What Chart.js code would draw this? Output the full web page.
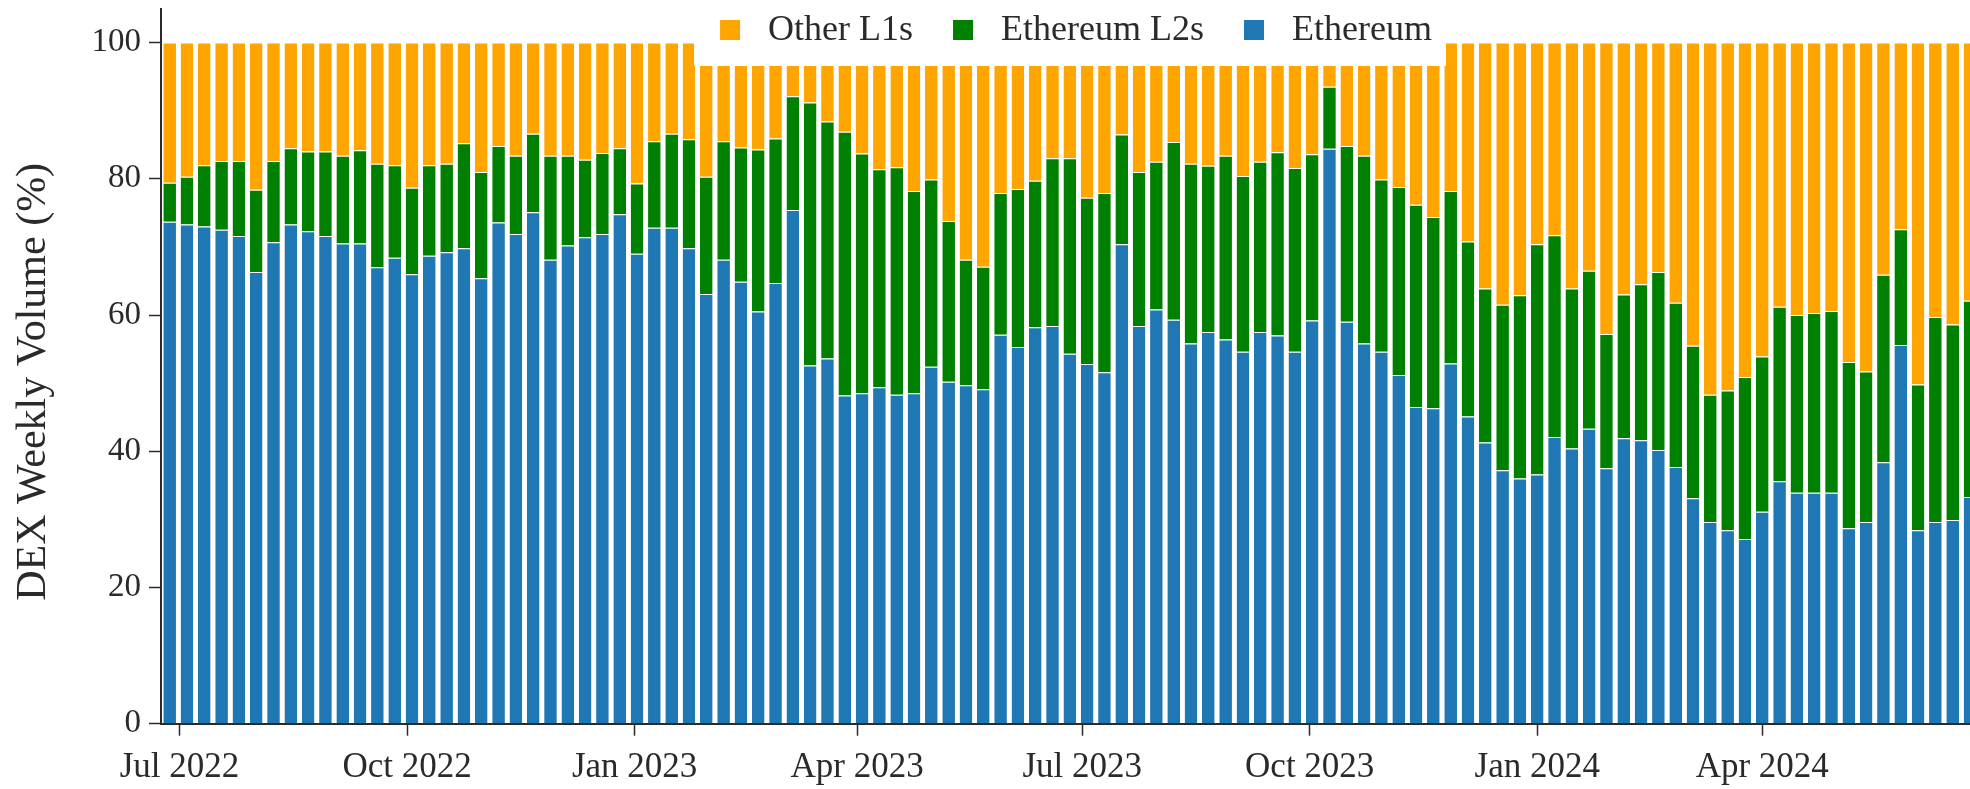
<!DOCTYPE html>
<html>
<head>
<meta charset="utf-8">
<script src="https://cdn.jsdelivr.net/npm/chart.js@4.4.0/dist/chart.umd.min.js"></script>
<style>
html,body{margin:0;padding:0;background:#fff;overflow:hidden;}
#wrap{position:relative;width:1970px;height:789px;}
</style>
</head>
<body>
<div id="wrap"><canvas id="c"></canvas></div>
<script>
// ---- data (weekly shares, %) ----
const firstWeek = '2022-06-27';
const seriesNames = ['Ethereum', 'Ethereum L2s', 'Other L1s'];
const ethereum = [
  73.7, 73.3, 73.0, 72.5, 71.6, 66.3, 70.7, 73.3, 72.3, 71.6,
  70.5, 70.5, 67.0, 68.4, 66.0, 68.7, 69.2, 69.8, 65.4, 73.6,
  71.9, 75.1, 68.1, 70.2, 71.4, 71.9, 74.8, 69.0, 72.8, 72.8,
  69.8, 63.1, 68.1, 64.9, 60.5, 64.7, 75.4, 52.6, 53.6, 48.2,
  48.5, 49.4, 48.3, 48.5, 52.4, 50.2, 49.7, 49.1, 57.1, 55.3,
  58.2, 58.4, 54.3, 52.8, 51.6, 70.4, 58.4, 60.8, 59.3, 55.8,
  57.5, 56.4, 54.6, 57.5, 57.0, 54.6, 59.2, 84.4, 59.0, 55.8,
  54.6, 51.2, 46.5, 46.3, 52.9, 45.1, 41.3, 37.2, 36.0, 36.6,
  42.1, 40.4, 43.3, 37.5, 41.9, 41.6, 40.2, 37.7, 33.1, 29.6,
  28.4, 27.1, 31.1, 35.6, 33.9, 33.9, 33.9, 28.7, 29.6, 38.4,
  55.6, 28.4, 29.6, 29.9, 33.3
];
const ethereumL2s = [
  5.7, 7.0, 9.0, 10.1, 11.0, 12.1, 11.9, 11.2, 11.7, 12.4,
  12.9, 13.7, 15.2, 13.6, 12.7, 13.3, 13.0, 15.4, 15.6, 11.2,
  11.5, 11.5, 15.3, 13.2, 11.4, 11.9, 9.7, 10.3, 12.7, 13.8,
  16.0, 17.2, 17.4, 19.7, 23.8, 21.2, 16.7, 38.6, 34.8, 38.7,
  35.2, 32.0, 33.4, 29.7, 27.5, 23.6, 18.4, 18.0, 20.8, 23.2,
  21.5, 24.6, 28.7, 24.4, 26.3, 16.1, 22.6, 21.7, 26.1, 26.4,
  24.4, 27.0, 25.8, 25.0, 26.9, 27.0, 24.4, 9.1, 25.8, 27.6,
  25.3, 27.6, 29.7, 28.1, 25.3, 25.7, 22.6, 24.3, 26.9, 33.8,
  29.6, 23.5, 23.2, 19.7, 21.1, 22.9, 26.1, 24.1, 22.4, 18.7,
  20.5, 23.8, 22.8, 25.6, 26.1, 26.4, 26.7, 24.4, 22.1, 27.5,
  17.0, 21.4, 30.1, 28.7, 28.8
];
const otherL1s = [
  20.6, 19.7, 18.0, 17.4, 17.4, 21.6, 17.4, 15.5, 16.0, 16.0,
  16.6, 15.8, 17.8, 18.0, 21.3, 18.0, 17.8, 14.8, 19.0, 15.2,
  16.6, 13.4, 16.6, 16.6, 17.2, 16.2, 15.5, 20.7, 14.5, 13.4,
  14.2, 19.7, 14.5, 15.4, 15.7, 14.1, 7.9, 8.8, 11.6, 13.1,
  16.3, 18.6, 18.3, 21.8, 20.1, 26.2, 31.9, 32.9, 22.1, 21.5,
  20.3, 17.0, 17.0, 22.8, 22.1, 13.5, 19.0, 17.5, 14.6, 17.8,
  18.1, 16.6, 19.6, 17.5, 16.1, 18.4, 16.4, 6.5, 15.2, 16.6,
  20.1, 21.2, 23.8, 25.6, 21.8, 29.2, 36.1, 38.5, 37.1, 29.6,
  28.3, 36.1, 33.5, 42.8, 37.0, 35.5, 33.7, 38.2, 44.5, 51.7,
  51.1, 49.1, 46.1, 38.8, 40.0, 39.7, 39.4, 46.9, 48.3, 34.1,
  27.4, 50.2, 40.3, 41.4, 37.9
];
const xTickLabels = ['Jul 2022', 'Oct 2022', 'Jan 2023', 'Apr 2023', 'Jul 2023', 'Oct 2023', 'Jan 2024', 'Apr 2024'];
const xTickDates  = ['2022-07-01', '2022-10-01', '2023-01-01', '2023-04-01', '2023-07-01', '2023-10-01', '2024-01-01', '2024-04-01'];
const yTicks = [0, 20, 40, 60, 80, 100];
const yTitle = 'DEX Weekly Volume (%)';

// ---- styling ----
const COLORS = ['#1f77b4', '#008000', '#ffa500'];
const FONT = '"Liberation Serif", "Times New Roman", Times, serif';
const TEXT = '#2a2a2a';
const AXIS = '#2a2a2a';

const WEEK_MS = 7 * 24 * 3600 * 1000;
const t0 = Date.parse(firstWeek);
const xTickPos = xTickDates.map(d => (Date.parse(d) - t0) / WEEK_MS);
const toPoints = arr => arr.map((v, i) => ({ x: i, y: v }));

const overlayLegend = {
  id: 'overlayLegend',
  afterDatasetsDraw(chart, args, o) {
    const ctx = chart.ctx;
    const items = chart.data.datasets.slice().reverse();
    ctx.save();
    ctx.font = o.fontSize + 'px ' + FONT;
    const widths = items.map(d => ctx.measureText(d.label).width);
    const total = o.padLeft + o.padRight + items.length * (o.box + o.boxGap) +
      widths.reduce((a, b) => a + b, 0) + (items.length - 1) * o.itemGap;
    const ca = chart.chartArea;
    const left = (ca.left + ca.right) / 2 + o.shift - total / 2;
    ctx.fillStyle = '#ffffff';
    ctx.fillRect(left, 0, total, o.height);
    let x = left + o.padLeft;
    items.forEach((d, i) => {
      ctx.fillStyle = d.backgroundColor;
      ctx.fillRect(x, o.boxY, o.box, o.box);
      x += o.box + o.boxGap;
      ctx.fillStyle = TEXT;
      ctx.textBaseline = 'middle';
      ctx.textAlign = 'left';
      ctx.fillText(d.label, x, o.textY);
      x += widths[i] + o.itemGap;
    });
    ctx.restore();
  }
};

const mkSet = (label, data, color) => ({
  label,
  data: toPoints(data),
  backgroundColor: color,
  borderColor: '#ffffff',
  borderWidth: { top: 1, right: 0, bottom: 0, left: 0 },
  borderSkipped: false,
  categoryPercentage: 1.0,
  barPercentage: 0.73
});

new Chart(document.getElementById('c'), {
  type: 'bar',
  data: {
    datasets: [
      mkSet(seriesNames[0], ethereum, COLORS[0]),
      mkSet(seriesNames[1], ethereumL2s, COLORS[1]),
      mkSet(seriesNames[2], otherL1s, COLORS[2])
    ]
  },
  plugins: [overlayLegend],
  options: {
    responsive: true,
    maintainAspectRatio: false,
    animation: false,
    events: [],
    layout: { padding: { left: 5, right: 0, top: 8.5, bottom: 0 } },
    plugins: {
      legend: { display: false },
      tooltip: { enabled: false },
      overlayLegend: {
        fontSize: 36, box: 20, boxGap: 28, itemGap: 40, padLeft: 26, padRight: 14,
        height: 66, boxY: 20, textY: 31, shift: 4.5
      }
    },
    scales: {
      x: {
        type: 'linear',
        stacked: true,
        offset: false,
        min: -0.5,
        max: 104,
        grid: { display: true, offset: false, drawOnChartArea: false, drawTicks: true, tickLength: 12, tickColor: AXIS, tickWidth: 1.5 },
        border: { display: true, color: AXIS, width: 2 },
        afterBuildTicks: s => { s.ticks = xTickPos.map(v => ({ value: v })); },
        afterFit: s => { s.height = 65.3; },
        ticks: {
          autoSkip: false, maxRotation: 0, minRotation: 0,
          padding: 11.3,
          color: TEXT,
          font: { family: FONT, size: 35, lineHeight: 1.2 },
          callback: (v, i) => xTickLabels[i]
        }
      },
      y: {
        type: 'linear',
        stacked: true,
        min: 0,
        max: 105,
        grid: { display: true, drawOnChartArea: false, drawTicks: true, tickLength: 12, tickColor: AXIS, tickWidth: 1.5 },
        border: { display: true, color: AXIS, width: 2 },
        afterBuildTicks: s => { s.ticks = yTicks.map(v => ({ value: v })); },
        afterFit: s => { s.width = 156; },
        ticks: {
          padding: 8,
          color: TEXT,
          font: { family: FONT, size: 33, lineHeight: 0.01 },
          callback: v => String(v)
        },
        title: {
          display: true,
          text: yTitle + '   ',
          color: TEXT,
          font: { family: FONT, size: 42, lineHeight: 1.2 },
          padding: { top: 3.8, bottom: 10 }
        }
      }
    }
  }
});
</script>
</body>
</html>
